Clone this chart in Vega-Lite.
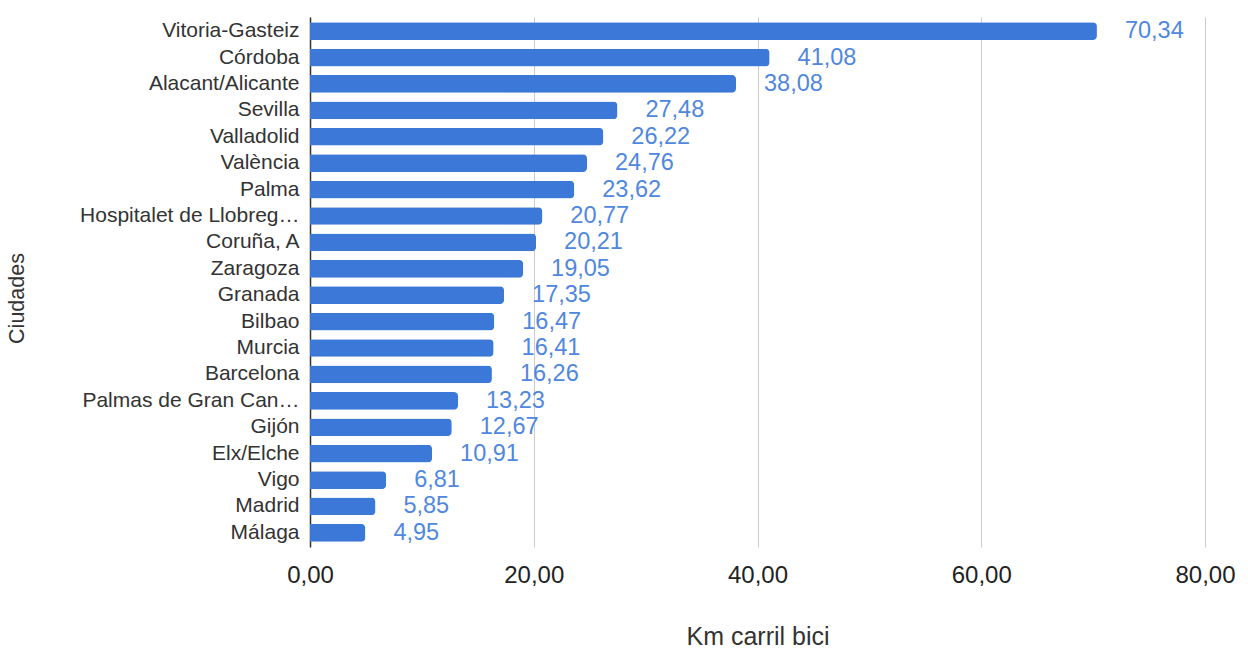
{
  "$schema": "https://vega.github.io/schema/vega-lite/v6.json",
  "width": 895,
  "height": 530,
  "autosize": "none",
  "padding": {"left": 310, "top": 17, "right": 43, "bottom": 106},
  "background": "white",
  "config": {
    "locale": {"number": {"decimal": ",", "thousands": ".", "grouping": [3], "currency": ["", " €"]}},
    "view": {"stroke": null},
    "font": "Liberation Sans"
  },
  "data": {
    "values": [
      {"ciudad": "Vitoria-Gasteiz", "km": 70.34},
      {"ciudad": "Córdoba", "km": 41.08},
      {"ciudad": "Alacant/Alicante", "km": 38.08},
      {"ciudad": "Sevilla", "km": 27.48},
      {"ciudad": "Valladolid", "km": 26.22},
      {"ciudad": "València", "km": 24.76},
      {"ciudad": "Palma", "km": 23.62},
      {"ciudad": "Hospitalet de Llobreg…", "km": 20.77},
      {"ciudad": "Coruña, A", "km": 20.21},
      {"ciudad": "Zaragoza", "km": 19.05},
      {"ciudad": "Granada", "km": 17.35},
      {"ciudad": "Bilbao", "km": 16.47},
      {"ciudad": "Murcia", "km": 16.41},
      {"ciudad": "Barcelona", "km": 16.26},
      {"ciudad": "Palmas de Gran Can…", "km": 13.23},
      {"ciudad": "Gijón", "km": 12.67},
      {"ciudad": "Elx/Elche", "km": 10.91},
      {"ciudad": "Vigo", "km": 6.81},
      {"ciudad": "Madrid", "km": 5.85},
      {"ciudad": "Málaga", "km": 4.95}
    ]
  },
  "encoding": {
    "y": {
      "field": "ciudad",
      "type": "nominal",
      "sort": "-x",
      "scale": {"paddingInner": 0.33, "paddingOuter": 0.2},
      "axis": {
        "title": "Ciudades",
        "titleFont": "Liberation Sans",
        "titleFontSize": 21.5,
        "titleFontWeight": "normal",
        "titleColor": "#333333",
        "titleX": -293,
        "titleY": 281,
        "titleAlign": "center",
        "titleBaseline": "middle",
        "titleAngle": -90,
        "labelFont": "Liberation Sans",
        "labelFontSize": 21,
        "labelColor": "#333333",
        "labelPadding": 11,
        "labelLimit": 300,
        "ticks": false,
        "domain": true,
        "domainColor": "#333333",
        "domainWidth": 1.5
      }
    },
    "x": {
      "field": "km",
      "type": "quantitative",
      "scale": {"domain": [0, 80]},
      "axis": {
        "title": "Km carril bici",
        "titleFont": "Liberation Sans",
        "titleFontSize": 25,
        "titleFontWeight": "normal",
        "titleColor": "#333333",
        "titlePadding": 37,
        "values": [0, 20, 40, 60, 80],
        "format": ".2f",
        "labelFont": "Liberation Sans",
        "labelFontSize": 24,
        "labelColor": "#222222",
        "labelPadding": 16,
        "labelFlush": false,
        "labelOverlap": false,
        "ticks": false,
        "domain": false,
        "grid": true,
        "gridColor": "#cccccc",
        "gridWidth": 1
      }
    }
  },
  "layer": [
    {
      "mark": {"type": "bar", "color": "#3c78d8", "cornerRadiusEnd": 4}
    },
    {
      "mark": {"type": "text", "align": "left", "baseline": "middle", "dx": 28, "fontSize": 23.5, "color": "#5087e0", "font": "Liberation Sans"},
      "encoding": {
        "text": {"field": "km", "type": "quantitative", "format": ".2f"}
      }
    }
  ]
}
